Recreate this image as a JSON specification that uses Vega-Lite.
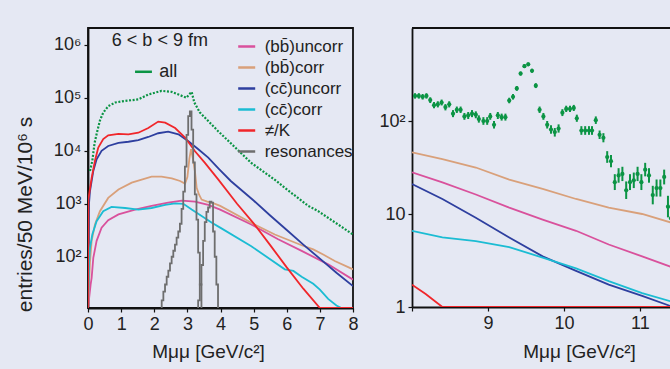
{
"$schema":"https://vega.github.io/schema/vega-lite/v6.json",
"background":"#e5e8f3",
"padding":{"left":13,"top":27,"right":0,"bottom":9},
"spacing":19,
"config":{
 "font":"Liberation Sans",
 "view":{"stroke":null},
 "axis":{"grid":false,"domainColor":"#111","domainWidth":1.8,"tickColor":"#111","tickSize":4,"tickWidth":1.2,"labelFont":"Liberation Sans","labelFontSize":18,"labelColor":"#222","labelPadding":3,"labelFlush":false,"labelOverlap":false,"labelSeparation":0,"titleFont":"Liberation Sans","titleFontSize":19,"titleFontWeight":"normal","titleColor":"#222","titlePadding":8}
},
"datasets":{
 "leftC":[
  {"s":"bu","x":0,"y":10.8},{"s":"bu","x":0.08,"y":30},{"s":"bu","x":0.11,"y":40},{"s":"bu","x":0.16,"y":95},{"s":"bu","x":0.26,"y":200},{"s":"bu","x":0.41,"y":355},{"s":"bu","x":0.61,"y":490},{"s":"bu","x":0.92,"y":630},{"s":"bu","x":1.42,"y":775},{"s":"bu","x":1.92,"y":910},{"s":"bu","x":2.42,"y":1050},{"s":"bu","x":2.83,"y":1150},{"s":"bu","x":3.23,"y":1100},{"s":"bu","x":3.63,"y":955},{"s":"bu","x":3.99,"y":775},{"s":"bu","x":4.93,"y":407},{"s":"bu","x":5.74,"y":214},{"s":"bu","x":6.45,"y":129},{"s":"bu","x":7.25,"y":72},{"s":"bu","x":8.0,"y":37},
  {"s":"bc","x":0,"y":10.8},{"s":"bc","x":0.06,"y":80},{"s":"bc","x":0.11,"y":200},{"s":"bc","x":0.21,"y":407},{"s":"bc","x":0.36,"y":724},{"s":"bc","x":0.61,"y":1290},{"s":"bc","x":0.92,"y":1860},{"s":"bc","x":1.32,"y":2510},{"s":"bc","x":1.92,"y":3240},{"s":"bc","x":2.22,"y":3240},{"s":"bc","x":2.53,"y":3020},{"s":"bc","x":2.78,"y":2690},{"s":"bc","x":2.93,"y":2400},{"s":"bc","x":3.0,"y":3200},{"s":"bc","x":3.06,"y":7000},{"s":"bc","x":3.11,"y":10700},{"s":"bc","x":3.17,"y":7000},{"s":"bc","x":3.23,"y":4000},{"s":"bc","x":3.28,"y":2000},{"s":"bc","x":3.35,"y":1500},{"s":"bc","x":3.43,"y":1200},{"s":"bc","x":3.6,"y":1100},{"s":"bc","x":3.74,"y":1050},{"s":"bc","x":3.99,"y":912},{"s":"bc","x":4.93,"y":437},{"s":"bc","x":5.64,"y":263},{"s":"bc","x":6.45,"y":165},{"s":"bc","x":6.8,"y":138},{"s":"bc","x":7.1,"y":110},{"s":"bc","x":7.45,"y":83},{"s":"bc","x":8.0,"y":58},
  {"s":"cu","x":0,"y":10.8},{"s":"cu","x":0.03,"y":1000},{"s":"cu","x":0.06,"y":1740},{"s":"cu","x":0.16,"y":4170},{"s":"cu","x":0.26,"y":6920},{"s":"cu","x":0.41,"y":10000},{"s":"cu","x":0.61,"y":12300},{"s":"cu","x":0.92,"y":14100},{"s":"cu","x":1.22,"y":14800},{"s":"cu","x":1.52,"y":15800},{"s":"cu","x":1.82,"y":18200},{"s":"cu","x":2.12,"y":21400},{"s":"cu","x":2.42,"y":22900},{"s":"cu","x":2.73,"y":20400},{"s":"cu","x":3.03,"y":15100},{"s":"cu","x":3.33,"y":10700},{"s":"cu","x":3.63,"y":7410},{"s":"cu","x":3.95,"y":4570},{"s":"cu","x":4.31,"y":2690},{"s":"cu","x":5.0,"y":1150},{"s":"cu","x":5.5,"y":600},{"s":"cu","x":6.0,"y":320},{"s":"cu","x":6.5,"y":170},{"s":"cu","x":7.0,"y":92},{"s":"cu","x":7.5,"y":50},{"s":"cu","x":8.0,"y":28},
  {"s":"cc","x":0,"y":10.8},{"s":"cc","x":0.03,"y":72},{"s":"cc","x":0.06,"y":148},{"s":"cc","x":0.13,"y":263},{"s":"cc","x":0.26,"y":468},{"s":"cc","x":0.46,"y":724},{"s":"cc","x":0.71,"y":871},{"s":"cc","x":1.12,"y":832},{"s":"cc","x":1.52,"y":776},{"s":"cc","x":1.92,"y":832},{"s":"cc","x":2.33,"y":955},{"s":"cc","x":2.63,"y":1020},{"s":"cc","x":2.88,"y":1000},{"s":"cc","x":3.13,"y":776},{"s":"cc","x":3.43,"y":589},{"s":"cc","x":3.74,"y":437},{"s":"cc","x":3.99,"y":355},{"s":"cc","x":4.93,"y":158},{"s":"cc","x":5.94,"y":58},{"s":"cc","x":6.2,"y":54},{"s":"cc","x":6.45,"y":42},{"s":"cc","x":6.8,"y":31},{"s":"cc","x":7.0,"y":24},{"s":"cc","x":7.25,"y":16},{"s":"cc","x":7.5,"y":12},{"s":"cc","x":7.65,"y":10.8},{"s":"cc","x":8.0,"y":10.8},
  {"s":"pk","x":0,"y":10.8},{"s":"pk","x":0.01,"y":1200},{"s":"pk","x":0.11,"y":3090},{"s":"pk","x":0.21,"y":6460},{"s":"pk","x":0.31,"y":11500},{"s":"pk","x":0.46,"y":16600},{"s":"pk","x":0.61,"y":19500},{"s":"pk","x":0.92,"y":20900},{"s":"pk","x":1.22,"y":20400},{"s":"pk","x":1.52,"y":21900},{"s":"pk","x":1.82,"y":26900},{"s":"pk","x":2.12,"y":35500},{"s":"pk","x":2.33,"y":33900},{"s":"pk","x":2.63,"y":26900},{"s":"pk","x":2.93,"y":17800},{"s":"pk","x":3.23,"y":9770},{"s":"pk","x":3.53,"y":5890},{"s":"pk","x":3.93,"y":2880},{"s":"pk","x":4.5,"y":1000},{"s":"pk","x":5.0,"y":427},{"s":"pk","x":5.5,"y":166},{"s":"pk","x":6.0,"y":63},{"s":"pk","x":6.5,"y":25},{"s":"pk","x":7.0,"y":10.8},{"s":"pk","x":8.0,"y":10.8}
 ],
 "res":[
  {"s":"res","p":"a","x":2.2,"y":10.8},{"s":"res","p":"a","x":2.25,"y":15},{"s":"res","p":"a","x":2.3,"y":22},{"s":"res","p":"a","x":2.35,"y":30},{"s":"res","p":"a","x":2.4,"y":42},{"s":"res","p":"a","x":2.45,"y":55},{"s":"res","p":"a","x":2.5,"y":75},{"s":"res","p":"a","x":2.55,"y":100},{"s":"res","p":"a","x":2.6,"y":130},{"s":"res","p":"a","x":2.65,"y":170},{"s":"res","p":"a","x":2.7,"y":230},{"s":"res","p":"a","x":2.75,"y":300},{"s":"res","p":"a","x":2.8,"y":420},{"s":"res","p":"a","x":2.85,"y":800},{"s":"res","p":"a","x":2.9,"y":1700},{"s":"res","p":"a","x":2.95,"y":5000},{"s":"res","p":"a","x":3.0,"y":20000},{"s":"res","p":"a","x":3.05,"y":45000},{"s":"res","p":"a","x":3.1,"y":55000},{"s":"res","p":"a","x":3.15,"y":25000},{"s":"res","p":"a","x":3.2,"y":6000},{"s":"res","p":"a","x":3.25,"y":1500},{"s":"res","p":"a","x":3.3,"y":500},{"s":"res","p":"a","x":3.35,"y":120},{"s":"res","p":"a","x":3.4,"y":30},{"s":"res","p":"a","x":3.45,"y":10.8},
  {"s":"res","p":"b","x":3.3,"y":10.8},{"s":"res","p":"b","x":3.35,"y":15},{"s":"res","p":"b","x":3.4,"y":30},{"s":"res","p":"b","x":3.45,"y":70},{"s":"res","p":"b","x":3.5,"y":200},{"s":"res","p":"b","x":3.55,"y":450},{"s":"res","p":"b","x":3.6,"y":700},{"s":"res","p":"b","x":3.65,"y":850},{"s":"res","p":"b","x":3.7,"y":1100},{"s":"res","p":"b","x":3.75,"y":1050},{"s":"res","p":"b","x":3.8,"y":300},{"s":"res","p":"b","x":3.85,"y":100},{"s":"res","p":"b","x":3.9,"y":30},{"s":"res","p":"b","x":3.95,"y":10.8}
 ],
 "allL":[
  {"x":0.06,"y":4170},{"x":0.13,"y":6460},{"x":0.2,"y":14100},{"x":0.28,"y":23400},{"x":0.36,"y":37200},{"x":0.46,"y":52500},{"x":0.61,"y":69200},{"x":0.82,"y":81300},{"x":1.12,"y":87100},{"x":1.52,"y":93300},{"x":1.82,"y":115000},{"x":2.22,"y":135000},{"x":2.53,"y":129000},{"x":2.78,"y":112000},{"x":2.97,"y":100000},{"x":3.08,"y":120000},{"x":3.13,"y":129000},{"x":3.21,"y":81300},{"x":3.38,"y":52500},{"x":3.93,"y":23400},{"x":4.93,"y":5890},{"x":5.69,"y":2690},{"x":5.94,"y":2000},{"x":6.65,"y":912},{"x":6.95,"y":724},{"x":8.0,"y":263}
 ],
 "right":[
  {"s":"bc","x":8.0,"y":46},{"s":"bc","x":8.4,"y":38.9},{"s":"bc","x":8.84,"y":31.6},{"s":"bc","x":9.28,"y":23.4},{"s":"bc","x":9.72,"y":18.6},{"s":"bc","x":10.16,"y":14.5},{"s":"bc","x":10.59,"y":11.7},{"s":"bc","x":11.03,"y":10},{"s":"bc","x":11.41,"y":8.1},
  {"s":"bu","x":8.0,"y":28},{"s":"bu","x":8.4,"y":21.9},{"s":"bu","x":8.84,"y":16.2},{"s":"bu","x":9.28,"y":11.7},{"s":"bu","x":9.72,"y":8.7},{"s":"bu","x":10.16,"y":6.6},{"s":"bu","x":10.59,"y":4.7},{"s":"bu","x":11.03,"y":3.5},{"s":"bu","x":11.41,"y":2.7},
  {"s":"cu","x":8.0,"y":21},{"s":"cu","x":8.4,"y":14.5},{"s":"cu","x":8.84,"y":9.1},{"s":"cu","x":9.28,"y":5.6},{"s":"cu","x":9.72,"y":3.5},{"s":"cu","x":10.16,"y":2.45},{"s":"cu","x":10.59,"y":1.74},{"s":"cu","x":11.03,"y":1.32},{"s":"cu","x":11.41,"y":1.02},
  {"s":"cc","x":8.0,"y":6.6},{"s":"cc","x":8.4,"y":5.6},{"s":"cc","x":8.84,"y":5.1},{"s":"cc","x":9.28,"y":4.4},{"s":"cc","x":9.72,"y":3.4},{"s":"cc","x":10.16,"y":2.6},{"s":"cc","x":10.59,"y":1.9},{"s":"cc","x":11.03,"y":1.41},{"s":"cc","x":11.41,"y":1.15},
  {"s":"pk","x":8.0,"y":1.74},{"s":"pk","x":8.18,"y":1.38},{"s":"pk","x":8.4,"y":1.0},{"s":"pk","x":11.41,"y":1.0}
 ],
 "allR":[
  {"x":8.04,"y":186,"lo":174,"hi":199},{"x":8.09,"y":186,"lo":174,"hi":199},{"x":8.14,"y":182,"lo":170,"hi":195},{"x":8.19,"y":186,"lo":174,"hi":199},{"x":8.24,"y":168,"lo":156,"hi":180},{"x":8.29,"y":148,"lo":137,"hi":160},{"x":8.34,"y":151,"lo":140,"hi":163},{"x":8.39,"y":158,"lo":147,"hi":170},{"x":8.44,"y":141,"lo":130,"hi":152},{"x":8.49,"y":151,"lo":140,"hi":163},
  {"x":8.54,"y":120,"lo":110,"hi":131},{"x":8.59,"y":132,"lo":122,"hi":143},{"x":8.64,"y":132,"lo":122,"hi":143},{"x":8.69,"y":112,"lo":103,"hi":122},{"x":8.74,"y":115,"lo":105,"hi":125},{"x":8.79,"y":120,"lo":110,"hi":131},{"x":8.84,"y":117,"lo":107,"hi":127},{"x":8.88,"y":105,"lo":96,"hi":115},{"x":8.94,"y":100,"lo":91,"hi":110},{"x":8.99,"y":100,"lo":91,"hi":110},
  {"x":9.03,"y":112,"lo":103,"hi":122},{"x":9.08,"y":91,"lo":83,"hi":100},{"x":9.13,"y":115,"lo":105,"hi":125},{"x":9.18,"y":110,"lo":101,"hi":120},{"x":9.23,"y":110,"lo":101,"hi":120},{"x":9.28,"y":166,"lo":155,"hi":178},{"x":9.33,"y":182,"lo":170,"hi":195},{"x":9.38,"y":224,"lo":211,"hi":238},{"x":9.43,"y":324,"lo":308,"hi":341},{"x":9.48,"y":389,"lo":371,"hi":408},
  {"x":9.53,"y":407,"lo":389,"hi":426},{"x":9.58,"y":347,"lo":330,"hi":365},{"x":9.63,"y":240,"lo":226,"hi":255},{"x":9.68,"y":132,"lo":122,"hi":143},{"x":9.73,"y":112,"lo":103,"hi":122},{"x":9.78,"y":91,"lo":83,"hi":100},{"x":9.83,"y":81,"lo":73,"hi":90},{"x":9.88,"y":76,"lo":68,"hi":84},{"x":9.93,"y":83,"lo":75,"hi":92},{"x":9.98,"y":123,"lo":113,"hi":134},
  {"x":10.03,"y":135,"lo":125,"hi":146},{"x":10.08,"y":135,"lo":125,"hi":146},{"x":10.13,"y":138,"lo":128,"hi":149},{"x":10.17,"y":107,"lo":98,"hi":117},{"x":10.23,"y":79,"lo":71,"hi":88},{"x":10.28,"y":79,"lo":71,"hi":88},{"x":10.33,"y":79,"lo":71,"hi":88},{"x":10.37,"y":79,"lo":71,"hi":88},{"x":10.42,"y":102,"lo":93,"hi":112},{"x":10.47,"y":71,"lo":64,"hi":79},
  {"x":10.52,"y":66,"lo":59,"hi":74},{"x":10.57,"y":41,"lo":35.5,"hi":47.4},{"x":10.62,"y":37,"lo":31.8,"hi":43.1},{"x":10.67,"y":22,"lo":18.1,"hi":26.8},{"x":10.72,"y":26,"lo":21.7,"hi":31.1},{"x":10.77,"y":27,"lo":22.6,"hi":32.2},{"x":10.82,"y":18,"lo":14.5,"hi":22.4},{"x":10.87,"y":22,"lo":18.1,"hi":26.8},{"x":10.92,"y":23,"lo":19,"hi":27.9},{"x":10.97,"y":27,"lo":22.6,"hi":32.2},
  {"x":11.02,"y":22,"lo":18.1,"hi":26.8},{"x":11.07,"y":30,"lo":25.4,"hi":35.5},{"x":11.12,"y":26,"lo":21.7,"hi":31.1},{"x":11.17,"y":16,"lo":12.7,"hi":20.1},{"x":11.22,"y":19,"lo":15.4,"hi":23.5},{"x":11.27,"y":19,"lo":15.4,"hi":23.5},{"x":11.32,"y":25,"lo":20.8,"hi":30},{"x":11.37,"y":12,"lo":9.2,"hi":15.7},{"x":11.41,"y":9,"lo":6.6,"hi":12.2}
 ]
},
"hconcat":[
 {
  "width":265,"height":280,
  "view":{"stroke":"#111","strokeWidth":1.8},
  "layer":[
   {"data":{"name":"leftC"},"mark":{"type":"line","strokeWidth":1.8,"clip":true},
    "encoding":{
     "x":{"field":"x","type":"quantitative","scale":{"domain":[0,8],"nice":false},"axis":{"values":[0,1,2,3,4,5,6,7,8],"tickCount":9,"labelOverlap":false,"labelSeparation":0,"labelAngle":0,"labelExpr":"format(datum.value,'d')","title":"Mμμ [GeV/c²]","titleX":120,"titleY":43,"titleBaseline":"middle","titleAlign":"center"}},
     "y":{"field":"y","type":"quantitative","scale":{"type":"log","domain":[10.8,2070000],"nice":false},"axis":{"values":[100,1000,10000,100000,1000000],"labelOverlap":false,"labelExpr":"datum.value==100?'10²':datum.value==1000?'10³':datum.value==10000?'10⁴':datum.value==100000?'10⁵':'10⁶'","title":"entries/50 MeV/10⁶ s","titleFontSize":21,"titleX":-63,"titleY":186,"titleAngle":270,"titleAlign":"center","titleBaseline":"middle"}},
     "color":{"field":"s","type":"nominal","scale":{"domain":["bu","bc","cu","cc","pk","res"],"range":["#d9519c","#d9a07a","#2e3f9f","#1bbcd3","#f0262a","#6e6e6e"]},
      "legend":{"orient":"none","legendX":148.7,"legendY":8.5,"title":null,"padding":0,"symbolType":"stroke","symbolSize":289,"symbolStrokeWidth":2.5,"labelFont":"Liberation Sans","labelFontSize":17,"labelColor":"#222","labelOffset":8,"rowPadding":3,
       "labelExpr":"datum.value=='bu'?'(bb\u0304)uncorr':datum.value=='bc'?'(bb\u0304)corr':datum.value=='cu'?'(cc\u0304)uncorr':datum.value=='cc'?'(cc\u0304)corr':datum.value=='pk'?'≠/K':'resonances'"}}
    }},
   {"data":{"name":"res"},"mark":{"type":"line","interpolate":"step","strokeWidth":1.8,"clip":true},
    "encoding":{"x":{"field":"x","type":"quantitative","axis":{"values":[0,1,2,3,4,5,6,7,8],"tickCount":9,"labelOverlap":false}},"y":{"field":"y","type":"quantitative"},"color":{"field":"s","type":"nominal"},"detail":{"field":"p"}}},
   {"data":{"name":"allL"},"mark":{"type":"line","color":"#0b9444","strokeWidth":2.2,"strokeDash":[2,1.6],"clip":true},
    "encoding":{"x":{"field":"x","type":"quantitative","axis":{"values":[0,1,2,3,4,5,6,7,8],"tickCount":9,"labelOverlap":false}},"y":{"field":"y","type":"quantitative"}}},
   {"data":{"values":[{"t":"6 < b < 9 fm"}]},"mark":{"type":"text","align":"left","baseline":"middle","fontSize":18,"color":"#222"},
    "encoding":{"x":{"datum":0.72},"y":{"datum":1170000},"text":{"field":"t"}}},
   {"data":{"values":[{"t":"all"}]},"mark":{"type":"text","align":"left","baseline":"middle","fontSize":18,"color":"#222"},
    "encoding":{"x":{"datum":2.15},"y":{"datum":309000},"text":{"field":"t"}}},
   {"data":{"values":[{"t":"all"}]},"mark":{"type":"rule","color":"#0b9444","strokeWidth":2.5},
    "encoding":{"x":{"datum":1.42},"x2":{"datum":1.93},"y":{"datum":309000}}}
  ]
 },
 {
  "width":259,"height":279,
  "layer":[
   {"data":{"name":"right"},"mark":{"type":"line","strokeWidth":1.8,"clip":true},
    "encoding":{
     "x":{"field":"x","type":"quantitative","scale":{"domain":[8,11.41],"nice":false},"axis":{"values":[8,9,10,11],"labelOverlap":false,"labelExpr":"datum.value==8?'':format(datum.value,'d')","title":"Mμμ [GeV/c²]","titleX":167,"titleY":44,"titleBaseline":"middle","titleAlign":"center"}},
     "y":{"field":"y","type":"quantitative","scale":{"type":"log","domain":[1,1000],"nice":false},"axis":{"values":[1,10,100],"labelOverlap":false,"labelExpr":"datum.value==100?'10²':datum.value==10?'10':'1'","title":null}},
     "color":{"field":"s","type":"nominal","scale":{"domain":["bu","bc","cu","cc","pk","res"],"range":["#d9519c","#d9a07a","#2e3f9f","#1bbcd3","#f0262a","#6e6e6e"]},"legend":null}
    }},
   {"data":{"name":"allR"},"mark":{"type":"rule","color":"#0b9444","strokeWidth":2,"clip":true},
    "encoding":{"x":{"field":"x","type":"quantitative"},"y":{"field":"lo","type":"quantitative"},"y2":{"field":"hi"}}},
   {"data":{"name":"allR"},"mark":{"type":"point","filled":true,"shape":"circle","size":18,"color":"#0b9444","opacity":1,"clip":true},
    "encoding":{"x":{"field":"x","type":"quantitative"},"y":{"field":"y","type":"quantitative"}}},
   {"data":{"values":[{"t":"top"}]},"mark":{"type":"rule","color":"#111","strokeWidth":1.8},
    "encoding":{"x":{"datum":8},"x2":{"datum":11.41},"y":{"datum":1000}}}
  ]
 }
]
}
